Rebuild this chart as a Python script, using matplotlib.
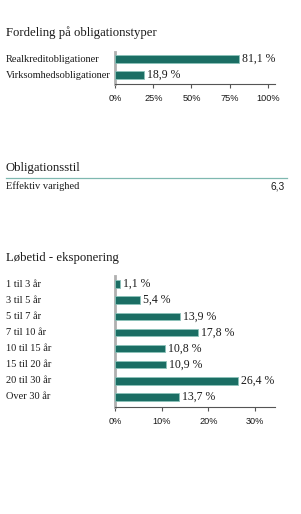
import matplotlib
matplotlib.use("Agg")
import matplotlib.pyplot as plt
from matplotlib.transforms import blended_transform_factory

plt.rcParams['font.family'] = ['Liberation Serif', 'DejaVu Serif']

W, H = 301, 514
DPI = 100

type_cats = ["Realkreditobligationer", "Virksomhedsobligationer"]
type_vals = [81.1, 18.9]
type_ticks = [0, 25, 50, 75, 100]

style_label = "Effektiv varighed"
style_value = "6,3"

mat_cats = ["1 til 3 år", "3 til 5 år", "5 til 7 år", "7 til 10 år",
            "10 til 15 år", "15 til 20 år", "20 til 30 år", "Over 30 år"]
mat_vals = [1.1, 5.4, 13.9, 17.8, 10.8, 10.9, 26.4, 13.7]
mat_ticks = [0, 10, 20, 30]

BAR = "#1b6e64"
EDGE = "#8cc2ba"
TXT = "#1a1a1a"
SANS = ['Liberation Sans', 'DejaVu Sans']

fig = plt.figure(figsize=(W / DPI, H / DPI), dpi=DPI)
fig.patch.set_facecolor("white")


def px_axes(x0, y0, x1, y1):
    return fig.add_axes([x0 / W, 1 - y1 / H, (x1 - x0) / W, (y1 - y0) / H])


def bar_panel(ax, cats, vals, ticks, xmax, top_pad, bot_pad):
    n = len(cats)
    y = list(range(n))
    ax.barh(y, vals, height=0.46, color=BAR, edgecolor=EDGE, linewidth=0.6, zorder=3)
    ax.set_xlim(0, xmax)
    ax.set_ylim(n - 1 + bot_pad, -top_pad)
    for s in ["top", "right"]:
        ax.spines[s].set_visible(False)
    ax.spines["left"].set_color("#b0b0b0")
    ax.spines["left"].set_linewidth(2)
    ax.spines["bottom"].set_color("#555555")
    ax.spines["bottom"].set_linewidth(0.8)
    ax.set_yticks([])
    ax.set_xticks(ticks)
    ax.set_xticklabels([f"{t}%" for t in ticks], fontsize=6.6, color=TXT,
                       family=SANS)
    ax.tick_params(axis="x", length=3, width=0.8, color="#555555", pad=4)
    trans = blended_transform_factory(fig.transFigure, ax.transData)
    for yi, c, v in zip(y, cats, vals):
        ax.text(6 / W, yi, c, transform=trans, ha="left", va="center",
                fontsize=7.5, color=TXT)
        ax.annotate(f"{v:.1f} %".replace(".", ","), (v, yi), xytext=(2.0, 0),
                    textcoords="offset points", ha="left", va="center",
                    fontsize=8.5, color=TXT)


# Section 1
fig.text(6 / W, 1 - 33 / H, "Fordeling på obligationstyper", fontsize=9.2,
         color=TXT, ha="left", va="center")
ax1 = px_axes(115, 52, 275, 84)
bar_panel(ax1, type_cats, type_vals, type_ticks, 104.6, 0.44, 0.56)

# Section 2
fig.text(6 / W, 1 - 168 / H, "Obligationsstil", fontsize=9.2, color=TXT,
         ha="left", va="center")
fig.add_artist(plt.Line2D([6 / W, 287 / W], [1 - 178 / H, 1 - 178 / H],
                          color="#7fb8b0", linewidth=0.9))
fig.text(6 / W, 1 - 186.5 / H, style_label, fontsize=7.5, color=TXT,
         ha="left", va="center")
fig.text(285 / W, 1 - 186.5 / H, style_value, fontsize=7.3, color=TXT,
         ha="right", va="center", family=SANS)

# Section 3
fig.text(6 / W, 1 - 258 / H, "Løbetid - eksponering", fontsize=9.2, color=TXT,
         ha="left", va="center")
ax2 = px_axes(115, 276, 275, 407)
bar_panel(ax2, mat_cats, mat_vals, mat_ticks, 34.3, 0.5, 0.62)

fig.savefig("out.png", dpi=DPI, facecolor="white")
